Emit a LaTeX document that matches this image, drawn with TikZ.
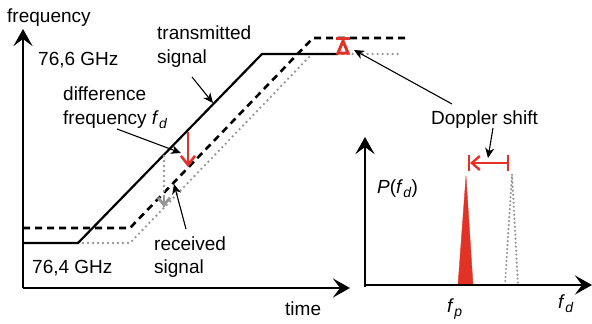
\documentclass[tikz,border=0pt]{standalone}
\usepackage{fontspec}
\setmainfont{Liberation Sans}
\usetikzlibrary{arrows.meta}
\definecolor{myred}{RGB}{226,50,38}
\definecolor{mygray}{RGB}{150,150,150}
\newcommand{\fsub}[1]{\textit{f}\kern0.3pt\raisebox{-0.4ex}{\fontsize{14}{14}\selectfont\textit{#1}}}
\begin{document}
\begin{tikzpicture}[x=1pt,y=-1pt,
  lbl/.style={anchor=base west,inner sep=0pt,font=\fontsize{19}{23}\selectfont},
  axis/.style={line width=2.6pt,-{Stealth[length=17pt,width=19pt,inset=7pt]}},
  ann/.style={line width=1.1pt,-{Stealth[length=10pt,width=9pt,inset=3pt]}},
  txline/.style={line width=2.2pt},
  rxdash/.style={line width=2.6pt,dash pattern=on 7pt off 5pt},
  rxdot/.style={line width=2.6pt,mygray,line cap=round,dash pattern=on 0pt off 5pt},
]
\useasboundingbox (0,0) rectangle (592,324);
% ---- left chart axes
\coordinate (O1) at (23,288);
\coordinate (Y1) at (23,29);
\coordinate (X1) at (350,288);
\draw[axis] (O1) -- (Y1);
\draw[axis] (O1) -- (X1);
% signals
\draw[rxdot] (78,243) -- (130,243) -- (312,54) -- (402,54);
\draw[txline] (23,243) -- (78,243) -- (262,54) -- (338,54);
\draw[rxdash] (23,228) -- (130,228) -- (313,38) -- (406,38);
% difference arrows
\coordinate (d1) at (188,132);
\coordinate (d2) at (188,167);
\draw[myred,line width=2.6pt,-{Straight Barb[length=9pt,width=14pt,line width=2.6pt]}] (d1) -- (d2);
\coordinate (g1) at (164,156);
\coordinate (g2) at (164,207);
\draw[rxdot] (g1) -- (g2);
\draw[mygray,line width=2.8pt,-{Straight Barb[length=7pt,width=12pt,line width=2.8pt]}] (164,197) -- (g2);
% doppler marker left
\draw[myred,line width=3pt] (336,38) -- (350,38);
\draw[myred,line width=3pt,line join=miter] (343,41) -- (338,53) -- (348,53) -- cycle;
% labels
\node[lbl] (freq) at (7,22) {frequency};
\node[lbl] (hi) at (38,65) {76,6 GHz};
\node[lbl] (lo) at (32,273) {76,4 GHz};
\node[lbl] (time) at (285,315) {time};
\node[lbl] (tx1) at (157,39) {transmitted};
\node[lbl] (tx2) at (157,63) {signal};
\node[lbl] (df1) at (63,100) {difference};
\node[lbl] (df2) at (63,124) {frequency \fsub{d}};
\node[lbl] (rx1) at (154,250) {received};
\node[lbl] (rx2) at (154,273) {signal};
\node[lbl] (dop) at (431,124) {Doppler shift};
% annotation arrows
\coordinate (a1s) at (192,77);  \coordinate (a1e) at (213,103);
\coordinate (a2s) at (117,129); \coordinate (a2e) at (181,153);
\coordinate (a3s) at (186,229); \coordinate (a3e) at (174,184);
\coordinate (a4s) at (452,104); \coordinate (a4e) at (354,50);
\coordinate (a5s) at (493,128); \coordinate (a5e) at (488,158);
\draw[ann] (a1s) -- (a1e);
\draw[ann] (a2s) -- (a2e);
\draw[ann] (a3s) -- (a3e);
\draw[ann] (a4s) -- (a4e);
\draw[ann] (a5s) -- (a5e);
% ---- right chart
\coordinate (O2) at (365,287);
\coordinate (Y2) at (365,137);
\coordinate (O2b) at (365,285);
\coordinate (X2) at (592,285);
\draw[myred,fill=myred] (458,285) -- (466,176) -- (473,285) -- cycle;
\draw[mygray,line width=2.4pt,line cap=round,dash pattern=on 0pt off 4pt] (505,285) -- (512,174) -- (518,285);
\draw[axis] (O2) -- (Y2);
\draw[axis] (O2b) -- (X2);
\draw[myred,line width=2.4pt] (469,155) -- (469,171);
\draw[myred,line width=2.4pt] (508,155) -- (508,171);
\draw[myred,line width=2.4pt,-{Straight Barb[length=8pt,width=14pt,line width=2.4pt]}] (508,163) -- (470,163);
\node[lbl] (P) at (377,193) {\textit{P}(\fsub{d})};
\node[lbl] (fp) at (447,312) {\fsub{p}};
\node[lbl] (fd) at (558,308) {\fsub{d}};
\end{tikzpicture}
\end{document}
